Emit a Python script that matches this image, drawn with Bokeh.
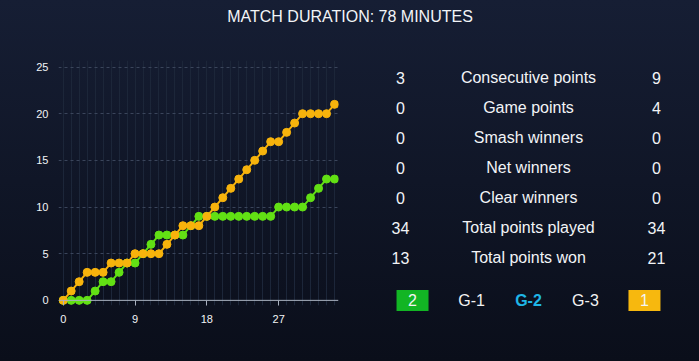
from bokeh.plotting import figure
from bokeh.layouts import column, row
from bokeh.models import Range1d, FixedTicker, ColumnDataSource, Span
from bokeh.core.properties import value
from bokeh.embed import file_html
from bokeh.resources import INLINE

# ---- data ----
rally = list(range(35))
player_left = [0, 0, 0, 0, 1, 2, 2, 3, 4, 4, 5, 6, 7, 7, 7, 7, 8, 9, 9, 9,
               9, 9, 9, 9, 9, 9, 9, 10, 10, 10, 10, 11, 12, 13, 13]
player_right = [0, 1, 2, 3, 3, 3, 4, 4, 4, 5, 5, 5, 5, 6, 7, 8, 8, 8, 9, 10,
                11, 12, 13, 14, 15, 16, 17, 17, 18, 19, 20, 20, 20, 20, 21]
x_ticks = [0, 9, 18, 27]
y_ticks = [0, 5, 10, 15, 20, 25]

stat_labels = ["Consecutive points", "Game points", "Smash winners", "Net winners",
               "Clear winners", "Total points played", "Total points won"]
stat_left = ["3", "0", "0", "0", "0", "34", "13"]
stat_right = ["9", "4", "0", "0", "0", "34", "21"]
games = ["G-1", "G-2", "G-3"]
game_colors = ["#f2f2f2", "#1fb6e6", "#f2f2f2"]
game_styles = ["normal", "bold", "normal"]
games_won_left = "2"
games_won_right = "1"
title_text = "MATCH DURATION: 78 MINUTES"

GREEN = "#62e014"
ORANGE = "#f7b30c"
FONT = value("Liberation Sans")
TXT = "#f2f4f7"


def blank(w, h, xr, yr):
    p = figure(width=w, height=h, x_range=xr, y_range=yr, x_axis_type=None, y_axis_type=None,
               output_backend="svg", toolbar_location=None, min_border=0)
    p.background_fill_alpha = 0
    p.border_fill_alpha = 0
    p.outline_line_color = None
    p.grid.visible = False
    return p


# ---- header ----
hdr = blank(699, 38, Range1d(0, 1), Range1d(0, 1))
hdr.text(x=[0.5], y=[1 - 16 / 38], text=[title_text], text_align="center",
         text_baseline="middle", text_font=FONT, text_font_size="16px", text_color=TXT)

# ---- chart ----
ch = figure(width=353, height=323, x_range=Range1d(-0.59, 34.5), y_range=Range1d(-0.55, 25.7),
            output_backend="svg", toolbar_location=None)
ch.background_fill_alpha = 0
ch.border_fill_alpha = 0
ch.outline_line_color = None
ch.min_border_left = 58
ch.min_border_right = 15
ch.min_border_top = 22
ch.min_border_bottom = 56

ch.xaxis.ticker = FixedTicker(ticks=x_ticks)
ch.xaxis.axis_line_color = None
ch.xaxis.major_tick_line_color = "#aab2c0"
ch.xaxis.major_tick_out = 0
ch.xaxis.major_tick_in = 5
ch.xaxis.minor_tick_line_color = None
ch.xaxis.major_label_standoff = 9
ch.xaxis.major_label_text_color = TXT
ch.xaxis.major_label_text_font = "Liberation Sans"
ch.xaxis.major_label_text_font_size = "11px"

ch.yaxis.ticker = FixedTicker(ticks=y_ticks)
ch.yaxis.axis_line_color = None
ch.yaxis.major_tick_line_color = None
ch.yaxis.minor_tick_line_color = None
ch.yaxis.major_tick_out = 0
ch.yaxis.major_label_standoff = 10
ch.yaxis.major_label_text_color = TXT
ch.yaxis.major_label_text_font = "Liberation Sans"
ch.yaxis.major_label_text_font_size = "11px"

ch.xgrid.ticker = FixedTicker(ticks=rally)
ch.xgrid.grid_line_color = "#1c2639"
ch.xgrid.grid_line_width = 1
ch.ygrid.ticker = FixedTicker(ticks=y_ticks[1:])
ch.ygrid.grid_line_color = "#3a455b"
ch.ygrid.grid_line_dash = "3 3"

ch.add_layout(Span(location=0, dimension="width", line_color="#aab2c0", line_width=1))

src = ColumnDataSource(dict(x=rally, a=player_left, b=player_right))
ch.line("x", "a", source=src, line_color=GREEN, line_width=2)
ch.scatter("x", "a", source=src, size=8, fill_color=GREEN, line_color=GREEN)
ch.line("x", "b", source=src, line_color=ORANGE, line_width=2)
ch.scatter("x", "b", source=src, size=8, fill_color=ORANGE, line_color=ORANGE)

# ---- table (own full-height frame) ----
tb = blank(346, 323, Range1d(-47 / 128, 299 / 128), Range1d(284 / 30, -39 / 30))
rows = list(range(len(stat_labels)))
tsrc = ColumnDataSource(dict(r=rows, lab=stat_labels, l=stat_left, rr=stat_right,
                             c0=[0] * len(rows), c1=[1] * len(rows), c2=[2] * len(rows)))
for col, key in (("c0", "l"), ("c1", "lab"), ("c2", "rr")):
    tb.text(col, "r", text=key, source=tsrc, text_align="center", text_baseline="middle",
            text_font=FONT, text_font_size="16px", text_color=TXT)

brow = 7.43
box_x = [0.094, 1.906]
tb.rect(x=box_x, y=[brow, brow], width=32, height=21, width_units="screen",
        height_units="screen", fill_color=["#12b524", "#f7b80e"], line_color=None)
tb.text(x=box_x, y=[brow, brow], text=[games_won_left, games_won_right], text_align="center",
        text_baseline="middle", text_font=FONT, text_font_size="16px", text_color="#f4f4f4")
tb.text(x=[0.555, 1.0, 1.445], y=[brow] * 3, text=games, text_align="center",
        text_baseline="middle", text_font=FONT, text_font_size="16px",
        text_color=game_colors, text_font_style=game_styles)

layout = column(hdr, row(ch, column(tb)))
html = file_html(layout, INLINE)
html = html.replace("</head>",
                    "<style>html,body{margin:0;padding:0;overflow:hidden;"
                    "background:linear-gradient(#161e34,#0a0e1a);min-height:100%;}</style></head>", 1)
open("out.html", "w").write(html)
